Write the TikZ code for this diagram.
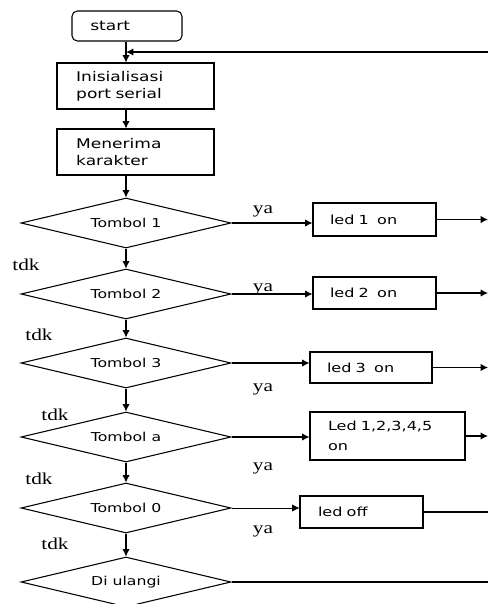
\documentclass[tikz,border=0pt]{standalone}
\usepackage{fontspec}
\setmainfont{Liberation Serif}[FakeStretch=1.28]
\newfontfamily\boxfont{DejaVu Sans}[FakeStretch=1.28]
\usetikzlibrary{shapes.geometric, arrows.meta}
\tikzset{>={Latex[length=5.5pt,width=5.5pt]}}

\begin{document}
\begin{tikzpicture}[x=0.75pt,y=-0.75pt,line width=0.8pt,
  proc/.style={draw, inner sep=0pt, align=left, font=\boxfont\fontsize{10}{12.75}\selectfont},
  ledbox/.style={draw, inner sep=0pt, align=left, font=\boxfont\fontsize{9.4}{15}\selectfont},
  decide/.style={draw, diamond, aspect=4.2, inner sep=0pt, minimum width=157.5pt, minimum height=37.5pt, font=\boxfont\fontsize{9.2}{11}\selectfont},
  lbl/.style={inner sep=0pt, font=\fontsize{12.5}{14}\selectfont}]
\useasboundingbox (0,0) rectangle (488,604);
\coordinate (spine) at (126,0);
\coordinate (edge) at (488,0);
\coordinate (back) at (488,52);

\node[proc, rounded corners=4pt, minimum width=82.5pt, minimum height=22.5pt, text width=55pt] (start) at (127,26) {start};
\node[proc, minimum width=117.75pt, minimum height=34.5pt, text width=89pt] (init) at (135.5,86) {Inisialisasi\\port serial};
\node[proc, minimum width=117.75pt, minimum height=34.5pt, text width=89pt] (terima) at (135.5,152) {Menerima\\karakter};

\node[decide] (t1) at (126,223) {Tombol 1};
\node[decide] (t2) at (126,294) {Tombol 2};
\node[decide] (t3) at (126,363) {Tombol 3};
\node[decide] (ta) at (126,437) {Tombol a};
\node[decide] (t0) at (126,508) {Tombol 0};
\node[decide] (ulang) at (126,582) {Di ulangi};

\node[ledbox, minimum width=92.25pt, minimum height=24.75pt, text width=66.75pt] (l1) at (374.5,219.5) {led 1\ \ on};
\node[ledbox, minimum width=92.25pt, minimum height=24pt, text width=66.75pt] (l2) at (374.5,293) {led 2\ \ on};
\node[ledbox, minimum width=91.5pt, minimum height=23.25pt, text width=66pt] (l3) at (371,367.5) {led 3\ \ on};
\node[ledbox, minimum width=116.25pt, minimum height=36pt, text width=89.25pt] (l5) at (387.5,436) {Led 1,2,3,4,5\\on};
\node[ledbox, minimum width=92.25pt, minimum height=24pt, text width=65.25pt] (loff) at (361.5,512) {led off};

% jalur utama
\draw[->] (start.south -| spine) -- (init.north -| spine);
\draw[->] (init.south -| spine) -- (terima.north -| spine);
\draw[->] (terima.south -| spine) -- (t1.north);
\draw[->] (t1.south) -- (t2.north);
\draw[->] (t2.south) -- (t3.north);
\draw[->] (t3.south) -- (ta.north);
\draw[->] (ta.south) -- (t0.north);
\draw[->] (t0.south) -- (ulang.north);
\draw[->] (back) -- (back -| spine);

% cabang ya
\draw[->] (t1.east) -- (t1.east -| l1.west);
\draw[->] (t2.east) -- (t2.east -| l2.west);
\draw[->] (t3.east) -- (t3.east -| l3.west);
\draw[->] (ta.east) -- (ta.east -| l5.west);
\draw[->, line width=0.5pt] (t0.east) -- (t0.east -| loff.west);

% keluar ke kanan
\draw[->] (l1.east) -- (l1.east -| edge);
\draw[->] (l2.east) -- (l2.east -| edge);
\draw[->] (l3.east) -- (l3.east -| edge);
\draw[->] (l5.east) -- (l5.east -| edge);
\draw (loff.east) -- (loff.east -| edge);
\draw (ulang.east) -- (ulang.east -| edge);

\node[lbl] (ya1) at (263,211) {ya};
\node[lbl] (ya2) at (263,289) {ya};
\node[lbl] (ya3) at (263,389) {ya};
\node[lbl] (ya4) at (263,468) {ya};
\node[lbl] (ya5) at (263,531) {ya};
\node[lbl] (tdk1) at (26,265) {tdk};
\node[lbl] (tdk2) at (39,335) {tdk};
\node[lbl] (tdk3) at (55,415) {tdk};
\node[lbl] (tdk4) at (39,479) {tdk};
\node[lbl] (tdk5) at (55,544) {tdk};
\end{tikzpicture}
\end{document}
